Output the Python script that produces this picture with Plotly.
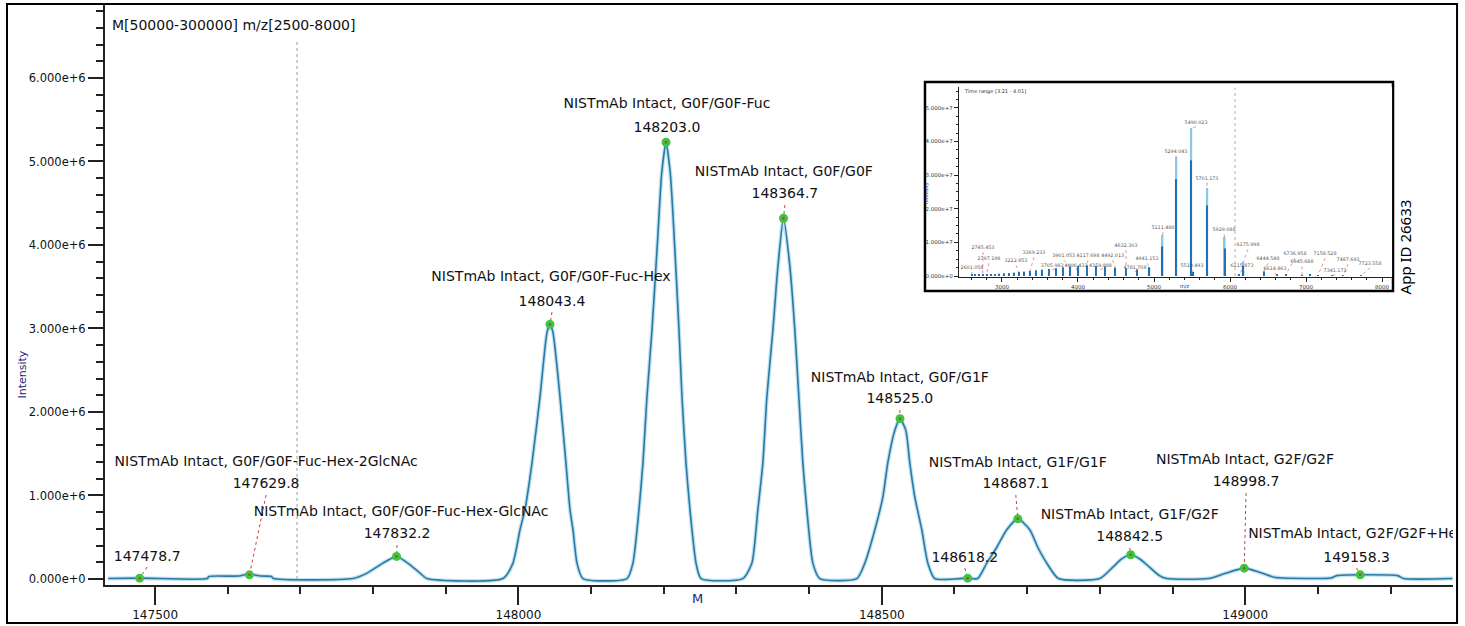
import plotly.graph_objects as go

# ---------------- main deconvoluted profile (mass, intensity in 1e6) ----------------
profile_mass = [147435.4, 147478.7, 147571.5, 147574.0, 147615.0, 147629.8, 147645.0, 147660.0, 147663.0,
                147772.3, 147791.6, 147813.6, 147832.2, 147850.8, 147864.5, 147874.1,
                147978.7, 147992.4, 148002.1, 148008.9, 148018.6, 148029.6, 148039.2, 148043.4, 148047.5,
                148057.1, 148065.3, 148070.9, 148075.0, 148080.5, 148088.7,
                148149.3, 148157.5, 148165.8, 148171.3, 148176.8, 148183.7, 148192.0, 148197.0, 148203.0,
                148209.0, 148214.0, 148220.9, 148225.0, 148230.5, 148236.0, 148244.3, 148251.2,
                148308.8, 148321.2, 148329.4, 148336.3, 148341.8, 148350.1, 148357.0, 148364.7,
                148373.5, 148380.3, 148385.8, 148391.3, 148396.8, 148405.1, 148414.7,
                148465.6, 148476.6, 148490.4, 148501.4, 148508.2, 148517.9, 148525.0,
                148533.0, 148538.5, 148545.4, 148555.0, 148563.3, 148572.9,
                148618.2, 148632.0, 148644.4, 148658.2, 148671.9, 148687.1, 148703.6, 148714.6, 148727.0, 148743.0,
                148799.8, 148817.7, 148830.0, 148842.5, 148855.0, 148868.6, 148882.0, 148892.0,
                148949.6, 148970.0, 148998.7, 149020.0, 149040.0, 149051.5,
                149118.0, 149126.0, 149158.3, 149210.0, 149218.0, 149285.4]
profile_int = [0.005, 0.01, 0.005, 0.03, 0.035, 0.06, 0.035, 0.03, 0.005,
               0.005, 0.07, 0.19, 0.27, 0.17, 0.07, 0.005,
               0.005, 0.19, 0.59, 0.83, 1.39, 2.18, 2.95, 3.05, 2.95,
               2.18, 1.39, 0.83, 0.59, 0.19, 0.005,
               0.005, 0.19, 0.83, 1.39, 2.18, 2.98, 4.14, 4.85, 5.23,
               4.85, 4.14, 2.98, 2.18, 1.39, 0.83, 0.19, 0.005,
               0.005, 0.19, 0.83, 1.39, 2.18, 2.98, 3.74, 4.32,
               3.74, 2.98, 2.18, 1.39, 0.83, 0.19, 0.005,
               0.005, 0.19, 0.59, 0.98, 1.39, 1.78, 1.92,
               1.78, 1.39, 0.98, 0.59, 0.19, 0.005,
               0.01, 0.005, 0.19, 0.38, 0.59, 0.72, 0.59, 0.38, 0.19, 0.005,
               0.005, 0.14, 0.24, 0.29, 0.24, 0.14, 0.04, 0.005,
               0.005, 0.06, 0.13, 0.08, 0.02, 0.012,
               0.012, 0.04, 0.05, 0.04, 0.005, 0.005]

# ---------------- annotated peaks ----------------
peak_mass = [147478.7, 147629.8, 147832.2, 148043.4, 148203.0, 148364.7,
             148525.0, 148618.2, 148687.1, 148842.5, 148998.7, 149158.3]
peak_int = [0.01, 0.05, 0.27, 3.05, 5.23, 4.32, 1.92, 0.01, 0.72, 0.29, 0.13, 0.05]
peak_names = ["", "NISTmAb Intact, G0F/G0F-Fuc-Hex-2GlcNAc", "NISTmAb Intact, G0F/G0F-Fuc-Hex-GlcNAc",
              "NISTmAb Intact, G0F/G0F-Fuc-Hex", "NISTmAb Intact, G0F/G0F-Fuc", "NISTmAb Intact, G0F/G0F",
              "NISTmAb Intact, G0F/G1F", "", "NISTmAb Intact, G1F/G1F", "NISTmAb Intact, G1F/G2F",
              "NISTmAb Intact, G2F/G2F", "NISTmAb Intact, G2F/G2F+Hex"]
# label placement (data units)
name_x = [None, 147652.7, 147838.4, 148044.7, 148204.3, 148365.2, 148524.8, None, 148687.1, 148841.1, 148999.8, 149153.4]
name_y = [None, 1.401, 0.802, 3.605, 5.677, 4.874, 2.407, None, 1.389, 0.766, 1.425, 0.527]
num_x = [147489.0, 147652.7, 147832.9, 148046.1, 148204.3, 148366.6, 148524.8, 148614.2, 148684.4, 148841.1, 149001.2, 149153.4]
num_y = [0.263, 1.126, 0.527, 3.317, 5.401, 4.599, 2.144, 0.251, 1.126, 0.491, 1.150, 0.251]

y_tick_vals = [0, 1, 2, 3, 4, 5, 6]
y_tick_text = ["0.000e+0", "1.000e+6", "2.000e+6", "3.000e+6", "4.000e+6", "5.000e+6", "6.000e+6"]
cursor_mass = 147695.3

# ---------------- inset m/z spectrum (intensity in 1e7) ----------------
inset_mz = [2601.1, 2647.5, 2695.6, 2745.5, 2797.2, 2851.0, 2907.0, 2965.1, 3025.6, 3088.6, 3154.3,
            3222.9, 3294.5, 3369.2, 3447.6, 3529.6, 3615.7, 3706.0, 3801.1, 3901.1, 4006.4, 4117.7,
            4235.4, 4359.9, 4492.0, 4632.3, 4781.7, 4941.2, 5111.5, 5294.0, 5490.0, 5519.5, 5701.2,
            5929.1, 6115.9, 6176.0, 6444.5, 6614.9, 6737.0, 6945.7, 7058.3, 7158.5, 7341.2, 7487.7, 7723.6]
inset_core = [0.03, 0.03, 0.04, 0.05, 0.05, 0.06, 0.06, 0.07, 0.08, 0.09, 0.10,
              0.12, 0.13, 0.15, 0.17, 0.19, 0.21, 0.23, 0.26, 0.28, 0.30, 0.32,
              0.30, 0.28, 0.25, 0.23, 0.20, 0.26, 0.88, 2.88, 3.44, 0.12, 2.10,
              0.82, 0.04, 0.30, 0.14, 0.03, 0.06, 0.02, 0.03, 0.02, 0.02, 0.02, 0.01]
big_mz = [5111.5, 5294.0, 5490.0, 5701.2, 5929.1, 6176.0]
big_top = [1.22, 3.55, 4.40, 2.62, 1.16, 0.42]

inset_labels = ["2601.058", "2745.453", "2797.198", "3222.853", "3369.233", "3705.983", "3901.053",
                "4117.698", "4006.433", "4359.888", "4492.013", "4632.303", "4781.708", "4941.153",
                "5111.488", "5294.043", "5490.023", "5519.493", "5701.173", "5929.088", "6115.873",
                "6175.998", "6444.548", "6614.863", "6736.958", "6945.688", "7158.528", "7341.173",
                "7487.693", "7723.558"]
inset_lab_x = [2605, 2750, 2829, 3184, 3421, 3660, 3812, 4132, 3972, 4296, 4455, 4632, 4750, 4908,
               5118, 5289, 5553, 5500, 5697, 5921, 6158, 6237, 6500, 6592, 6855, 6947, 7250, 7382,
               7553, 7842]
inset_lab_y = [0.24, 0.83, 0.50, 0.44, 0.68, 0.30, 0.59, 0.59, 0.30, 0.30, 0.59, 0.89, 0.24, 0.50,
               1.42, 3.70, 4.56, 0.30, 2.90, 1.36, 0.30, 0.92, 0.50, 0.21, 0.65, 0.41, 0.65, 0.15,
               0.47, 0.36]
inset_y_vals = [0, 1, 2, 3, 4, 5]
inset_y_text = ["0.000e+0", "1.000e+7", "2.000e+7", "3.000e+7", "4.000e+7", "5.000e+7"]
inset_cursor = 6066

FONT = "DejaVu Sans"
fig = go.Figure()

# cursor line
fig.add_trace(go.Scatter(x=[cursor_mass, cursor_mass], y=[0, 6.45], mode="lines",
                         line=dict(color="#9a9a9a", width=1, dash="dot"), hoverinfo="skip"))
# profile halo + line
fig.add_trace(go.Scatter(x=profile_mass, y=profile_int, mode="lines",
                         line=dict(color="rgba(140,200,225,0.55)", width=4, shape="spline", smoothing=0.6),
                         hoverinfo="skip"))
fig.add_trace(go.Scatter(x=profile_mass, y=profile_int, mode="lines",
                         line=dict(color="#2b79a8", width=1.6, shape="spline", smoothing=0.6)))

# leader lines
lx, ly = [], []
for i in range(len(peak_mass)):
    lx += [num_x[i], peak_mass[i], None]
    ly += [num_y[i] - 0.12, peak_int[i], None]
fig.add_trace(go.Scatter(x=lx, y=ly, mode="lines", line=dict(color="#d23c3c", width=1, dash="dot"),
                         hoverinfo="skip"))
# markers
fig.add_trace(go.Scatter(x=peak_mass, y=peak_int, mode="markers",
                         marker=dict(color="#3cc83c", size=9, line=dict(width=0))))
fig.add_trace(go.Scatter(x=peak_mass, y=peak_int, mode="markers",
                         marker=dict(color="#b04040", size=2.5, line=dict(width=0))))
# labels
fig.add_trace(go.Scatter(x=[x for x in name_x if x is not None], y=[y for y in name_y if y is not None],
                         text=[n for n in peak_names if n], mode="text", cliponaxis=True,
                         textfont=dict(family=FONT, size=14, color="#111111")))
fig.add_trace(go.Scatter(x=num_x, y=num_y, text=[f"{m:.1f}" for m in peak_mass], mode="text",
                         cliponaxis=True, textfont=dict(family=FONT, size=14, color="#111111")))

# ---------------- inset traces ----------------
fig.add_trace(go.Scatter(x=[inset_cursor, inset_cursor], y=[0, 5.6], mode="lines", xaxis="x2", yaxis="y2",
                         line=dict(color="#a0a0a0", width=0.8, dash="dot"), hoverinfo="skip"))
fig.add_trace(go.Bar(x=big_mz, y=big_top, width=24, marker=dict(color="#8ec5ea", line=dict(width=0)),
                     xaxis="x2", yaxis="y2"))
fig.add_trace(go.Bar(x=inset_mz, y=inset_core, width=16, marker=dict(color="#1f6fb5", line=dict(width=0)),
                     xaxis="x2", yaxis="y2"))
ilx, ily = [], []
lookup = dict(zip(inset_mz, inset_core))
for lab, tx, ty in zip(inset_labels, inset_lab_x, inset_lab_y):
    m = float(lab)
    near = min(inset_mz, key=lambda v: abs(v - m))
    h = max(lookup[near], big_top[big_mz.index(near)] if near in big_mz else 0)
    ilx += [tx, m, None]
    ily += [ty - 0.12, h, None]
fig.add_trace(go.Scatter(x=ilx, y=ily, mode="lines", xaxis="x2", yaxis="y2",
                         line=dict(color="#d66", width=0.7, dash="dot"), hoverinfo="skip"))
fig.add_trace(go.Scatter(x=inset_lab_x, y=inset_lab_y, text=inset_labels, mode="text", xaxis="x2", yaxis="y2",
                         cliponaxis=False, textfont=dict(family=FONT, size=4.8, color="#555555")))

fig.update_layout(
    width=1465, height=626, margin=dict(l=105, r=12, t=5, b=41, autoexpand=False),
    paper_bgcolor="white", plot_bgcolor="white", showlegend=False, barmode="overlay",
    xaxis=dict(range=[147431, 149286], tickmode="linear", tick0=147500, dtick=500, tickformat="d",
               ticks="outside", ticklen=18, tickwidth=1.5, tickcolor="#222", showline=True, linecolor="#222",
               linewidth=2, showgrid=False, zeroline=False,
               tickfont=dict(family=FONT, size=12, color="#111"),
               minor=dict(dtick=100, tick0=147500, ticks="outside", ticklen=7, tickwidth=1.5,
                          tickcolor="#222", showgrid=False)),
    yaxis=dict(range=[-0.072, 6.874], tickmode="array", tickvals=y_tick_vals, ticktext=y_tick_text,
               ticks="outside", ticklen=15, tickwidth=1.5, tickcolor="#222", showline=True,
               linecolor="#222", linewidth=2, showgrid=False, zeroline=False,
               tickfont=dict(family=FONT, size=11.5, color="#111"),
               minor=dict(dtick=0.2, tick0=0, ticks="outside", ticklen=7, tickwidth=1.5,
                          tickcolor="#222", showgrid=False)),
    xaxis2=dict(domain=[0.6335, 0.9548], anchor="y2", range=[2434, 8132], tickmode="linear", tick0=3000,
                dtick=1000, tickformat="d", ticks="outside", ticklen=4, tickwidth=0.8, tickcolor="#222",
                showline=True, linecolor="#222", linewidth=1, showgrid=False, zeroline=False,
                tickfont=dict(family=FONT, size=5.5, color="#333"),
                minor=dict(dtick=200, tick0=3000, ticks="outside", ticklen=2, tickwidth=0.6,
                           tickcolor="#222", showgrid=False)),
    yaxis2=dict(domain=[0.531, 0.8586], anchor="x2", range=[-0.03, 5.62], tickmode="array",
                tickvals=inset_y_vals, ticktext=inset_y_text, ticks="outside", ticklen=4, tickwidth=0.8,
                tickcolor="#222", showline=True, linecolor="#222", linewidth=1, showgrid=False,
                zeroline=False, tickfont=dict(family=FONT, size=5.5, color="#333"),
                minor=dict(dtick=0.25, tick0=0, ticks="outside", ticklen=2, tickwidth=0.6,
                           tickcolor="#222", showgrid=False)),
    shapes=[
        dict(type="rect", xref="paper", yref="paper", x0=-0.0727, x1=1.003, y0=-0.0655, y1=1.0017,
             line=dict(color="black", width=2), layer="above"),
        dict(type="rect", xref="paper", yref="paper", x0=0.6083, x1=0.9555, y0=0.5069, y1=0.8672,
             line=dict(color="black", width=2.5), fillcolor="white", layer="below"),
    ],
    annotations=[
        dict(text="M[50000-300000] m/z[2500-8000]", xref="paper", yref="paper", x=0.0037, y=0.9655,
             xanchor="left", yanchor="middle", showarrow=False,
             font=dict(family=FONT, size=14, color="#111")),
        dict(text="M", xref="paper", yref="paper", x=0.4392, y=-0.0397, showarrow=False,
             font=dict(family=FONT, size=13, color="#1a237e")),
        dict(text="Intensity", xref="paper", yref="paper", x=-0.0675, y=0.362, textangle=-90,
             showarrow=False, font=dict(family=FONT, size=11, color="#1a237e")),
        dict(text="App ID 26633", xref="paper", yref="paper", x=0.974, y=0.669, textangle=-90,
             showarrow=False, font=dict(family="Noto Sans", size=15, color="black")),
        dict(text="Time range [3.21 - 4.01]", xref="x2", yref="y2", x=2474, y=5.50, xanchor="left",
             showarrow=False, font=dict(family=FONT, size=5, color="#333")),
        dict(text="m/z", xref="paper", yref="paper", x=0.8064, y=0.5155, showarrow=False,
             font=dict(family=FONT, size=5, color="#1a237e")),
        dict(text="Intensity", xref="paper", yref="paper", x=0.609, y=0.698, textangle=-90,
             showarrow=False, font=dict(family=FONT, size=5, color="#1a237e")),
    ],
)

fig.write_html("out.html", config={"displayModeBar": False},
               post_script="document.body.style.margin='0';document.body.style.overflow='hidden';")
